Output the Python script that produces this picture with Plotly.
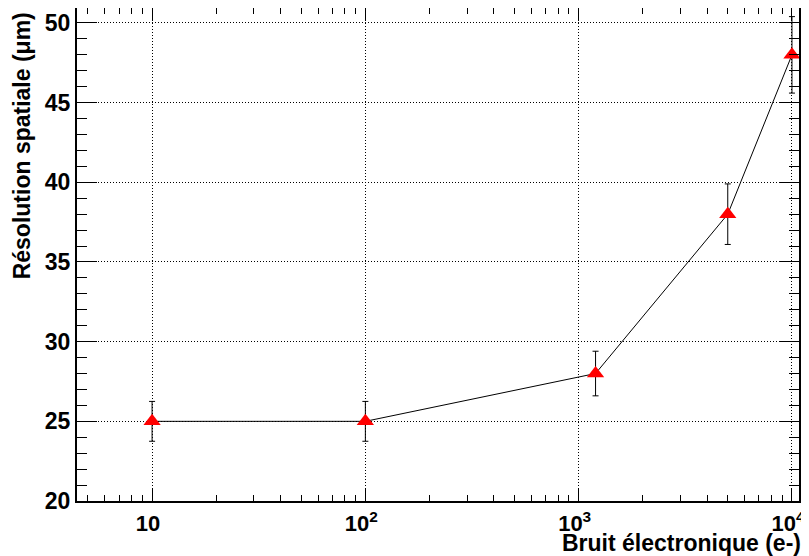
import plotly.graph_objects as go

noise = [10, 100, 1200, 5000, 10000]
resolution = [25, 25, 28, 38, 48]
res_err = [1.25, 1.25, 1.4, 1.9, 2.4]

x_ticks = [10, 100, 1000, 10000]
x_ticktext = ["10", "10<sup>2</sup>", "10<sup>3</sup>", "10<sup>4</sup>"]
x_minor = [5, 6, 7, 8, 9, 20, 30, 40, 50, 60, 70, 80, 90,
           200, 300, 400, 500, 600, 700, 800, 900,
           2000, 3000, 4000, 5000, 6000, 7000, 8000, 9000]

FONT = "Liberation Sans"

fig = go.Figure()
fig.add_trace(go.Scatter(
    x=noise, y=resolution,
    mode="lines+markers",
    line=dict(color="black", width=1),
    marker=dict(symbol="triangle-up", size=15, color="red", line=dict(width=0)),
    error_y=dict(type="data", array=res_err, color="black", thickness=1, width=3),
    showlegend=False,
))

# the page body has an 8px margin, so the figure is drawn 8px in from the top-left
fig.update_layout(
    width=801, height=548,
    margin=dict(l=69, r=10, t=0, b=55),
    paper_bgcolor="white", plot_bgcolor="white",
    font=dict(family=FONT, size=23, color="black"),
    xaxis=dict(
        type="log", range=[0.648, 4.033], automargin=False,
        tickmode="array", tickvals=x_ticks, ticktext=x_ticktext,
        ticklabeloverflow="allow", ticklabelstandoff=2, ticklabelshift=-4,
        ticks="inside", ticklen=12, tickwidth=1, tickcolor="black",
        minor=dict(ticks="inside", ticklen=6, tickcolor="black", tickwidth=1,
                   tickmode="array", tickvals=x_minor, showgrid=False),
        showgrid=True, gridcolor="black", griddash="1px,2px", gridwidth=1,
        showline=True, linecolor="black", linewidth=2, mirror="allticks",
        tickfont=dict(family=FONT, size=22, color="black", weight="bold"),
        zeroline=False,
    ),
    yaxis=dict(
        range=[20, 50.94], dtick=5, tick0=20, automargin=False,
        ticklabeloverflow="allow",
        ticks="inside", ticklen=20, tickwidth=1, tickcolor="black",
        minor=dict(ticks="inside", ticklen=10, tickcolor="black", tickwidth=1,
                   dtick=1, showgrid=False),
        showgrid=True, gridcolor="black", griddash="1px,2px", gridwidth=1,
        showline=True, linecolor="black", linewidth=2, mirror="allticks",
        tickfont=dict(family=FONT, size=23, color="black", weight="bold"),
        zeroline=False,
    ),
    annotations=[
        dict(text="Résolution spatiale (μm)", textangle=-90,
             xref="paper", yref="paper", x=-0.075, y=0.996,
             xanchor="center", yanchor="top", showarrow=False,
             font=dict(family=FONT, size=23, color="black", weight="bold")),
        dict(text="Bruit électronique (e-)",
             xref="paper", yref="paper", x=1.0055, y=-0.085,
             xanchor="right", yanchor="middle", showarrow=False,
             font=dict(family=FONT, size=23, color="black", weight="bold")),
    ],
)

fig.write_html("out.html")
